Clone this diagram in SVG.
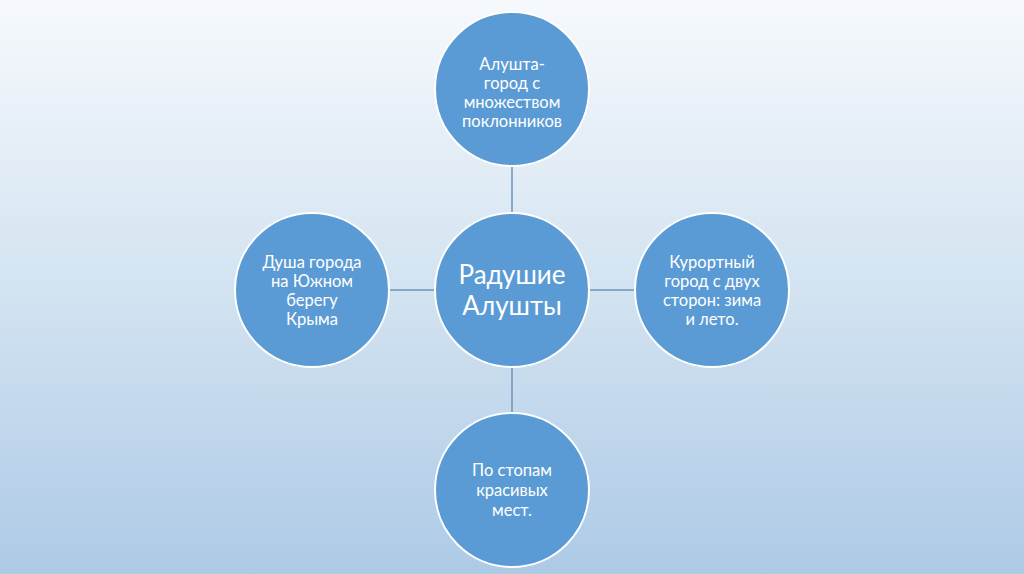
<svg xmlns="http://www.w3.org/2000/svg" width="1024" height="574" viewBox="0 0 1024 574">
<defs>
<linearGradient id="bg" x1="0" y1="0" x2="0" y2="1">
<stop offset="0" stop-color="#f6f9fc"/>
<stop offset="0.5" stop-color="#d3e3f1"/>
<stop offset="1" stop-color="#adcae6"/>
</linearGradient>
<style>
.node circle{fill:#5b9bd5;stroke:#ffffff;stroke-width:2}
.node text{fill:#ffffff;font-family:Lato,"Open Sans","Noto Sans",sans-serif;font-size:16.5px;text-anchor:middle}
.node text.big{font-size:26px}
.conn line{stroke:#6e93b9;stroke-width:1.5}
</style>
</defs>
<rect width="1024" height="574" fill="url(#bg)"/>
<g id="connectors" class="conn">
<line x1="512" y1="166" x2="512" y2="213"/>
<line x1="512" y1="367" x2="512" y2="413"/>
<line x1="389" y1="290" x2="435" y2="290"/>
<line x1="589" y1="290" x2="635" y2="290"/>
</g>
<g id="center" class="node">
<circle cx="512" cy="290" r="77"/>
<text class="big" x="512" y="284">Радушие</text>
<text class="big" x="512" y="315">Алушты</text>
</g>
<g id="top" class="node">
<circle cx="512" cy="89" r="77"/>
<text x="512" y="70">Алушта-</text>
<text x="512" y="89">город с</text>
<text x="512" y="108">множеством</text>
<text x="512" y="127">поклонников</text>
</g>
<g id="left" class="node">
<circle cx="312" cy="290" r="77"/>
<text x="312" y="268">Душа города</text>
<text x="312" y="287">на Южном</text>
<text x="312" y="306">берегу</text>
<text x="312" y="325">Крыма</text>
</g>
<g id="right" class="node">
<circle cx="712" cy="290" r="77"/>
<text x="712" y="268">Курортный</text>
<text x="712" y="287">город с двух</text>
<text x="712" y="306">сторон: зима</text>
<text x="712" y="325">и лето.</text>
</g>
<g id="bottom" class="node">
<circle cx="512" cy="490" r="77"/>
<text x="512" y="476">По стопам</text>
<text x="512" y="496">красивых</text>
<text x="512" y="516">мест.</text>
</g>
</svg>
